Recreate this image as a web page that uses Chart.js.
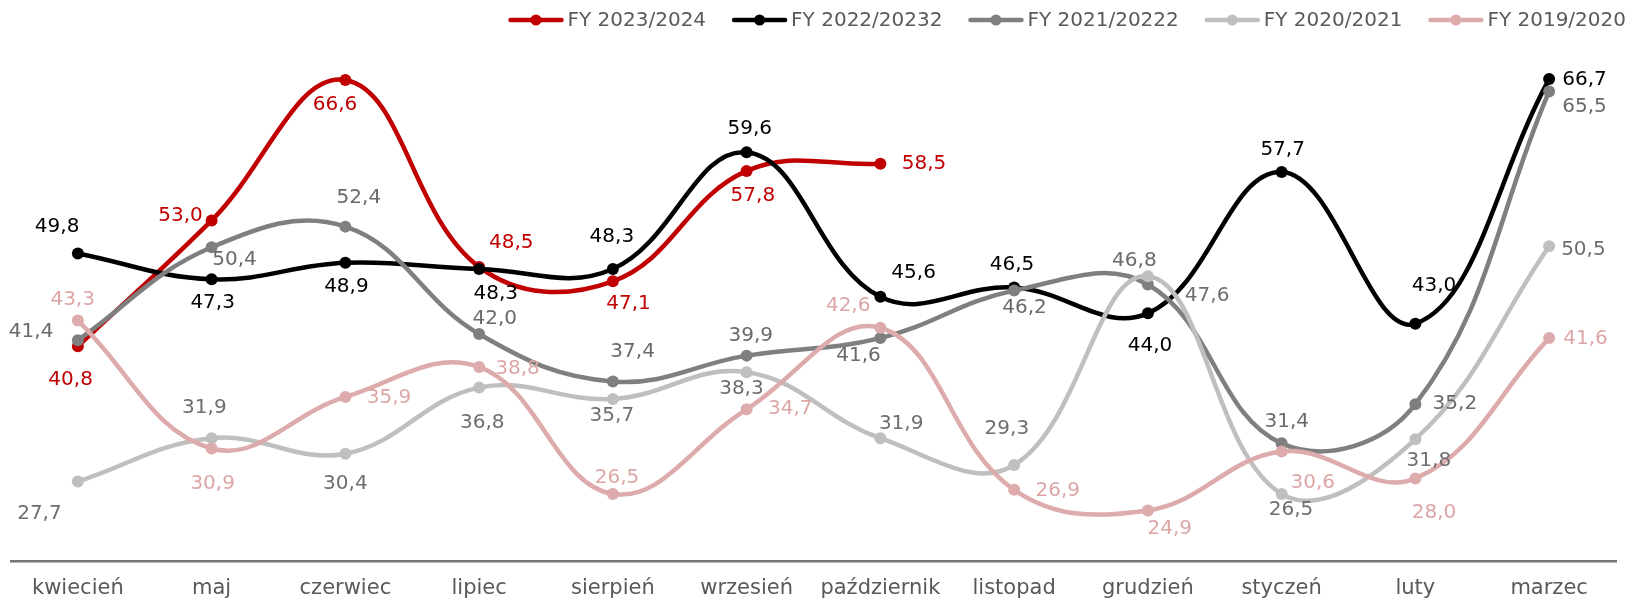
<!DOCTYPE html>
<html>
<head>
<meta charset="utf-8">
<script src="https://cdn.jsdelivr.net/npm/chart.js@4"></script>
<style>
  html, body { margin: 0; padding: 0; background: #fff; }
  #wrap { width: 1629px; height: 601px; }
</style>
</head>
<body>
<div id="wrap"><canvas id="chart"></canvas></div>
<script>
const months = ['kwiecień', 'maj', 'czerwiec', 'lipiec', 'sierpień', 'wrzesień', 'październik', 'listopad', 'grudzień', 'styczeń', 'luty', 'marzec']

const fy2324 = [40.8, 53.0, 66.6, 48.5, 47.1, 57.8, 58.5, null, null, null, null, null]
const fy2223 = [49.8, 47.3, 48.9, 48.3, 48.3, 59.6, 45.6, 46.5, 44.0, 57.7, 43.0, 66.7]
const fy2122 = [41.4, 50.4, 52.4, 42.0, 37.4, 39.9, 41.6, 46.2, 46.8, 31.4, 35.2, 65.5]
const fy2021 = [27.7, 31.9, 30.4, 36.8, 35.7, 38.3, 31.9, 29.3, 47.6, 26.5, 31.8, 50.5]
const fy1920 = [43.3, 30.9, 35.9, 38.8, 26.5, 34.7, 42.6, 26.9, 24.9, 30.6, 28.0, 41.6]

const seriesNames = ['FY 2023/2024', 'FY 2022/20232', 'FY 2021/20222', 'FY 2020/2021', 'FY 2019/2020']

// label offsets [dx, dy] from each point (style only)
const off2324 = [[-7, 32], [-30, -4], [-10, 24], [31, -23], [15, 22], [6, 24], [42, 0]]
const off2223 = [[-20, -26], [1, 23], [1, 23], [16, 24], [-1, -31], [3, -23], [32, -23], [-2, -22], [2, 31], [1, -21], [18, -36], [34, 1]]
const off2122 = [[-45, -8], [22, 12], [13, -28], [15, -15], [19, -29], [4, -19], [-21, 17], [10, 17], [-13, -23], [5, -21], [38, 0], [34, 15]]
const off2021 = [[-37, 31], [-7, -29], [0, 29], [3, 34], [-1, 16], [-5, 16], [20, -14], [-7, -35], [57, 19], [9, 15], [13, 21], [33, 3]]
const off1920 = [[-5, -20], [1, 34], [42, 1], [37, 2], [4, -16], [42, 0], [-31, -21], [42, 1], [21, 18], [30, 30], [18, 33], [35, 1]]

const FONT = "'DejaVu Sans', sans-serif"
const K = 1629 / 1568

function series(i, data, color, labelColor, offsets, order) {
  return {
    label: seriesNames[i],
    data,
    borderColor: color,
    backgroundColor: color,
    pointBackgroundColor: color,
    pointBorderWidth: 0,
    pointRadius: 6,
    borderWidth: 4.5,
    tension: 0.4,
    order,
    labelColor,
    offsets,
  }
}

const valueLabels = {
  id: 'valueLabels',
  afterDatasetsDraw(chart) {
    const ctx = chart.ctx
    ctx.save()
    ctx.font = '20px ' + FONT
    ctx.textAlign = 'center'
    ctx.textBaseline = 'middle'
    chart.data.datasets.forEach((ds, i) => {
      const meta = chart.getDatasetMeta(i)
      meta.data.forEach((pt, j) => {
        const v = ds.data[j]
        if (v == null) return
        const o = ds.offsets[j] || [0, -22]
        ctx.fillStyle = ds.labelColor
        ctx.fillText(v.toFixed(1).replace('.', ','), pt.x + o[0] * K, pt.y + o[1] * K)
      })
    })
    ctx.restore()
  },
}

// legend drawn by hand: line + marker, then name, right aligned at the top
const topLegend = {
  id: 'topLegend',
  afterDraw(chart) {
    const ctx = chart.ctx
    const lineLen = 55, gap = 4, spacing = 26, right = 1626, y = 20
    ctx.save()
    ctx.font = '20px ' + FONT
    ctx.textBaseline = 'middle'
    const items = chart.data.datasets.map(ds => ({ ds, w: ctx.measureText(ds.label).width }))
    const total = items.reduce((s, it) => s + lineLen + gap + it.w, 0) + spacing * (items.length - 1)
    let x = right - total
    items.forEach(({ ds, w }) => {
      ctx.strokeStyle = ds.borderColor
      ctx.lineWidth = 4.5
      ctx.lineCap = 'round'
      ctx.beginPath()
      ctx.moveTo(x + 2, y)
      ctx.lineTo(x + lineLen - 2, y)
      ctx.stroke()
      ctx.fillStyle = ds.borderColor
      ctx.beginPath()
      ctx.arc(x + lineLen / 2, y, 5.5, 0, Math.PI * 2)
      ctx.fill()
      ctx.fillStyle = '#595959'
      ctx.fillText(ds.label, x + lineLen + gap, y + 1)
      x += lineLen + gap + w + spacing
    })
    ctx.restore()
  },
}

const chart = new Chart(document.getElementById('chart'), {
  type: 'line',
  data: {
    labels: months,
    datasets: [
      series(0, fy2324, '#C00000', '#C00000', off2324, 5),
      series(1, fy2223, '#000000', '#000000', off2223, 4),
      series(2, fy2122, '#7F7F7F', '#6A6A6A', off2122, 3),
      series(3, fy2021, '#BFBFBF', '#6E6E6E', off2021, 2),
      series(4, fy1920, '#DDABAB', '#DDA6A6', off1920, 1),
    ],
  },
  options: {
    responsive: true,
    maintainAspectRatio: false,
    animation: false,
    layout: { padding: { left: 11, right: 13, top: 45, bottom: 0 } },
    scales: {
      x: {
        offset: true,
        grid: { display: false, drawTicks: false },
        border: { display: true, color: '#767676', width: 2.5 },
        ticks: { color: '#595959', font: { family: FONT, size: 21 }, padding: 15, autoSkip: false, maxRotation: 0 },
        afterFit: (s) => { s.height = 40 },
      },
      y: {
        display: false,
        min: 20,
        max: 70,
      },
    },
    plugins: {
      tooltip: { enabled: false },
      legend: { display: false },
    },
  },
  plugins: [valueLabels, topLegend],
})
</script>
</body>
</html>
